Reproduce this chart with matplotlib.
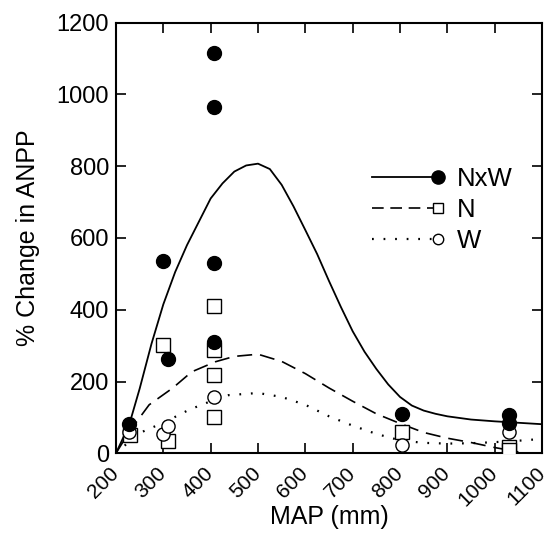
import matplotlib
matplotlib.use("Agg")
import matplotlib.pyplot as plt
from matplotlib.legend_handler import HandlerLine2D

plt.rcParams['font.family'] = ['Liberation Sans', 'DejaVu Sans']

# ---- observed points ----
nxw_map = [228, 300, 310, 407, 407, 407, 407, 805, 1030, 1030]
nxw_val = [81, 537, 263, 1114, 965, 530, 311, 109, 107, 84]

n_map = [230, 300, 310, 407, 407, 407, 407, 805, 1030, 1030]
n_val = [51, 302, 35, 410, 288, 218, 102, 60, 18, 9]

w_map = [228, 300, 310, 407, 805, 1030]
w_val = [60, 54, 77, 158, 23, 58]

# ---- fitted curves ----
nxw_curve_map = [200, 228, 250, 275, 300, 325, 350, 375, 400, 425, 450, 475, 500,
                 525, 550, 575, 600, 625, 650, 675, 700, 725, 750, 775, 800,
                 825, 850, 875, 900, 950, 1000, 1050, 1100]
nxw_curve_val = [0, 80, 180, 305, 415, 505, 580, 645, 710, 752, 785, 802, 807,
                 792, 748, 688, 622, 555, 480, 408, 340, 283, 235, 192, 157,
                 133, 119, 110, 103, 94, 89, 85, 81]

n_curve_map = [200, 228, 270, 320, 360, 410, 450, 500, 550, 600, 650, 700, 750,
               800, 850, 900, 950, 1000, 1050]
n_curve_val = [0, 60, 135, 182, 227, 255, 270, 276, 256, 222, 182, 145, 110,
               83, 58, 42, 30, 16, 4]

w_curve_map = [200, 230, 256, 305, 354, 400, 438, 500, 550, 600, 650, 700, 750,
               800, 850, 900, 950, 1000, 1050, 1100]
w_curve_val = [0, 35, 60, 88, 121, 145, 162, 168, 157, 135, 103, 77, 54,
               36, 29, 27, 28, 31, 35, 40]

x_ticks = [200, 300, 400, 500, 600, 700, 800, 900, 1000, 1100]
y_ticks = [0, 200, 400, 600, 800, 1000, 1200]


class EndMarkerHandler(HandlerLine2D):
    """Legend entry: line with its marker at the right end."""
    def create_artists(self, legend, orig_handle, xdescent, ydescent,
                       width, height, fontsize, trans):
        artists = super().create_artists(legend, orig_handle, xdescent, ydescent,
                                         width, height, fontsize, trans)
        for a in artists:
            try:
                n = len(a.get_xdata())
                a.set_markevery([n - 1])
            except Exception:
                pass
        return artists


fig = plt.figure(figsize=(5.51, 5.40), dpi=100)
ax = fig.add_axes([0.2105, 0.1606, 0.7732, 0.7975])

ms = 9.5
ls_dash = (0, (9, 4.8))
ls_dot = (0, (0.8, 4.4))
ax.plot(nxw_curve_map, nxw_curve_val, color='black', lw=1.3, ls='-', zorder=2)
ax.plot(n_curve_map, n_curve_val, color='black', lw=1.2, ls=ls_dash, zorder=2)
ax.plot(w_curve_map, w_curve_val, color='black', lw=1.6, ls=ls_dot, zorder=2)

ax.plot(n_map, n_val, ls='none', marker='s', ms=ms, mfc='white', mec='black', mew=1.0, zorder=3)
ax.plot(w_map, w_val, ls='none', marker='o', ms=ms, mfc='white', mec='black', mew=1.0, zorder=3)
ax.plot(nxw_map, nxw_val, ls='none', marker='o', ms=ms + 0.5, mfc='black', mec='black', zorder=4)

# legend handles
h1, = ax.plot([], [], color='black', lw=1.3, ls='-', marker='o', ms=ms, mfc='black', mec='black')
h2, = ax.plot([], [], color='black', lw=1.2, ls=(0, (7, 4)), marker='s', ms=ms - 2, mfc='white', mec='black', mew=1.0)
h3, = ax.plot([], [], color='black', lw=1.6, ls=ls_dot, marker='o', ms=ms - 2, mfc='white', mec='black', mew=1.0)
handler = EndMarkerHandler(numpoints=1)
ax.legend([h1, h2, h3], ['NxW', 'N', 'W'], loc='upper left',
          bbox_to_anchor=(0.601, 0.664), frameon=False, fontsize=18.5,
          handlelength=2.55, handletextpad=0.75, labelspacing=0.27,
          borderpad=0, borderaxespad=0,
          handler_map={h1: handler, h2: handler, h3: handler})

ax.set_xlim(200, 1100)
ax.set_ylim(0, 1200)
ax.set_xticks(x_ticks)
ax.set_yticks(y_ticks)
ax.set_xticklabels([str(v) for v in x_ticks], rotation=45, ha='right',
                   va='center', rotation_mode='anchor', fontsize=15)
ax.set_yticklabels([str(v) for v in y_ticks], fontsize=17)
ax.tick_params(direction='in', length=7, width=1.2, top=True, right=True)
ax.tick_params(axis='x', pad=12)
ax.tick_params(axis='y', pad=5)
for s in ax.spines.values():
    s.set_linewidth(1.5)

ax.set_xlabel('MAP (mm)', fontsize=18)
ax.xaxis.set_label_coords(0.5, -0.12)
ax.set_ylabel('% Change in ANPP', fontsize=18, labelpad=12)

fig.savefig('out.png', dpi=100)
